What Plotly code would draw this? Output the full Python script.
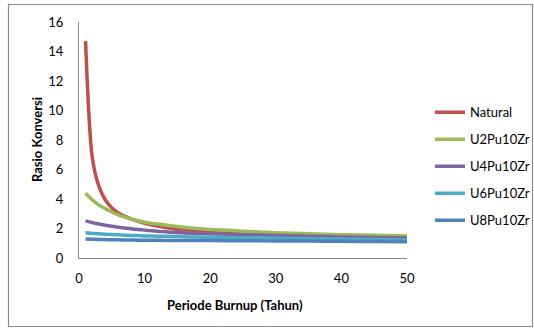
import plotly.graph_objects as go

years = [1, 2, 3, 4, 5, 6, 7, 8, 9, 10, 12, 14, 16, 18, 20, 25, 30, 35, 40, 45, 50]
natural = [14.7, 6.9, 4.9, 3.95, 3.4, 3.05, 2.82, 2.64, 2.48, 2.35, 2.16, 2.0, 1.9, 1.82, 1.75, 1.63, 1.55, 1.49, 1.44, 1.41, 1.38]
u2pu10zr = [4.4, 3.95, 3.6, 3.35, 3.12, 2.93, 2.77, 2.63, 2.52, 2.43, 2.3, 2.18, 2.08, 2.0, 1.94, 1.82, 1.72, 1.64, 1.58, 1.54, 1.5]
u4pu10zr = [2.52, 2.4, 2.3, 2.22, 2.15, 2.09, 2.03, 1.98, 1.93, 1.89, 1.82, 1.74, 1.7, 1.67, 1.64, 1.58, 1.53, 1.48, 1.43, 1.39, 1.35]
u6pu10zr = [1.71, 1.67, 1.64, 1.61, 1.59, 1.57, 1.55, 1.53, 1.52, 1.5, 1.48, 1.46, 1.44, 1.42, 1.41, 1.38, 1.35, 1.31, 1.28, 1.25, 1.22]
u8pu10zr = [1.28, 1.27, 1.26, 1.25, 1.24, 1.23, 1.22, 1.22, 1.21, 1.21, 1.2, 1.19, 1.19, 1.18, 1.18, 1.17, 1.16, 1.15, 1.13, 1.12, 1.1]

series = [
    ("Natural", natural, "#C0504D"),
    ("U2Pu10Zr", u2pu10zr, "#9BBB59"),
    ("U4Pu10Zr", u4pu10zr, "#8064A2"),
    ("U6Pu10Zr", u6pu10zr, "#4BACC6"),
    ("U8Pu10Zr", u8pu10zr, "#4F81BD"),
]

FONT = "Lato, 'Open Sans', sans-serif"

L, R, T, B = 79, 127, 22, 71
W, H = 534, 329
pw, ph = W - L - R, H - T - B

def px_x(p):
    return (p - L) / pw

def px_y(p):
    return (H - B - p) / ph

fig = go.Figure()
layout_legends = {}
legend_y_px = [112.3, 139.3, 166.3, 193.3, 220.3]
for i, (name, vals, col) in enumerate(series):
    lname = "legend" if i == 0 else f"legend{i+1}"
    fig.add_trace(go.Scatter(
        x=years, y=vals, name=name, mode="lines",
        line=dict(color=col, width=3.5, shape="spline", smoothing=0.8),
        legend=lname, showlegend=True,
    ))
    layout_legends[lname] = dict(
        xref="container", yref="container",
        x=430 / W, y=1 - legend_y_px[i] / H, xanchor="left", yanchor="middle",
        bgcolor="rgba(0,0,0,0)", borderwidth=0,
        font=dict(family=FONT, size=13, color="#000000"),
    )

fig.update_layout(
    width=W, height=H,
    margin=dict(l=L, r=R, t=T, b=B, autoexpand=False),
    paper_bgcolor="white", plot_bgcolor="white",
    font=dict(family=FONT, size=13, color="#000000"),
    xaxis=dict(range=[0, 50], dtick=10, tick0=0, showgrid=False, zeroline=False,
               showline=True, linecolor="#868686", linewidth=1,
               ticks="", ticklabelstandoff=8,
               tickfont=dict(family=FONT, size=13, color="#000000")),
    yaxis=dict(range=[0, 16], dtick=2, tick0=0, showgrid=False, zeroline=False,
               showline=True, linecolor="#868686", linewidth=1,
               ticks="", ticklabelstandoff=12,
               tickfont=dict(family=FONT, size=13, color="#000000")),
    annotations=[
        dict(text="<b>Periode Burnup (Tahun)</b>", x=px_x(235), y=px_y(305),
             xref="paper", yref="paper", showarrow=False,
             xanchor="center", yanchor="middle",
             font=dict(family=FONT, size=13, color="#000000")),
        dict(text="<b>Rasio Konversi</b>", x=px_x(37), y=px_y(140),
             xref="paper", yref="paper", showarrow=False, textangle=-90,
             xanchor="center", yanchor="middle",
             font=dict(family=FONT, size=13, color="#000000")),
    ],
    shapes=[
        dict(type="rect", xref="paper", yref="paper",
             x0=px_x(8.5), x1=px_x(532.5), y0=px_y(326.5), y1=px_y(4.5),
             line=dict(color="#8C8C8C", width=1.2), fillcolor="rgba(0,0,0,0)",
             layer="below"),
    ],
    **layout_legends,
)

fig.write_html("out.html")
